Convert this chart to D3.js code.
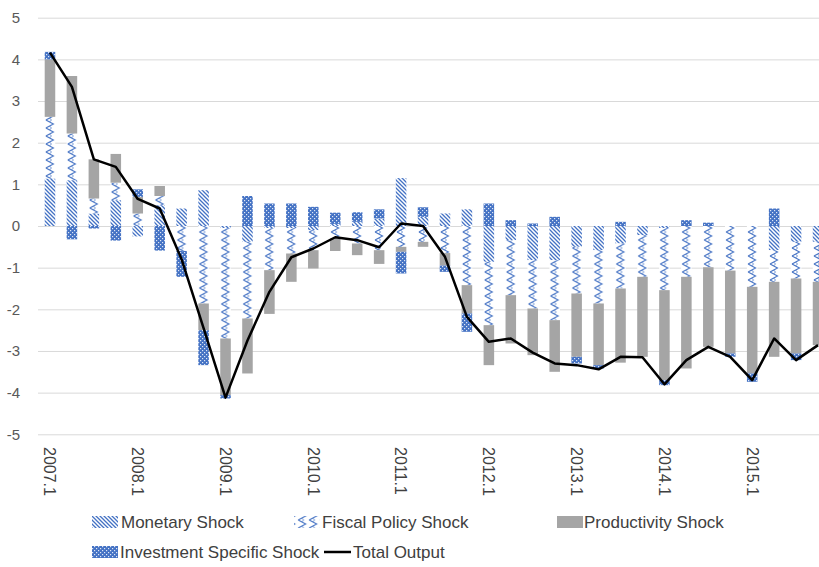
<!DOCTYPE html>
<html>
<head>
<meta charset="utf-8">
<script src="https://cdn.jsdelivr.net/npm/d3@7"></script>
<style>
  html, body { margin: 0; padding: 0; background: #fff; }
  svg { display: block; font-family: 'Liberation Sans', Arial, sans-serif; }
</style>
</head>
<body>
<div id="viz"></div>
<script>
'use strict';

const quarters = [
  '2007.1', '2007.2', '2007.3', '2007.4', '2008.1', '2008.2', '2008.3', '2008.4',
  '2009.1', '2009.2', '2009.3', '2009.4', '2010.1', '2010.2', '2010.3', '2010.4',
  '2011.1', '2011.2', '2011.3', '2011.4', '2012.1', '2012.2', '2012.3', '2012.4',
  '2013.1', '2013.2', '2013.3', '2013.4', '2014.1', '2014.2', '2014.3', '2014.4',
  '2015.1', '2015.2', '2015.3', '2015.4'
];

const monetary = [
  1.14, 1.10, 0.30, 0.62, -0.25, 0.50, 0.42, 0.86,
  -0.05, -0.38, -0.05, -0.05, -0.10, 0.05, 0.10, 0.18,
  1.15, 0.22, 0.30, 0.40, -0.86, -0.34, -0.82, -0.82,
  -0.50, -0.58, -0.42, -0.22, -0.05, 0.00, 0.00, 0.00,
  0.00, -0.58, -0.38, -0.38
];

const fiscal = [
  1.48, 1.12, 0.36, 0.42, 0.30, 0.22, -0.60, -1.86,
  -2.65, -1.84, -1.01, -0.61, -0.48, -0.30, -0.42, -0.58,
  -0.50, -0.38, -0.65, -1.42, -1.52, -1.32, -1.16, -1.44,
  -1.12, -1.28, -1.08, -1.00, -1.49, -1.22, -0.99, -1.07,
  -1.46, -0.76, -0.88, -0.96
];

const productivity = [
  1.38, 1.38, 0.94, 0.69, 0.40, 0.24, 0.00, -0.64,
  -1.36, -1.32, -1.05, -0.68, -0.44, -0.30, -0.28, -0.33,
  -0.12, -0.12, -0.30, -0.68, -0.96, -1.16, -1.12, -1.24,
  -1.52, -1.48, -1.78, -1.92, -2.16, -2.20, -1.91, -1.99,
  -2.08, -1.80, -1.80, -1.52
];

const investment = [
  0.18, -0.32, -0.06, -0.35, 0.18, -0.59, -0.62, -0.84,
  -0.08, 0.72, 0.54, 0.54, 0.46, 0.27, 0.23, 0.22,
  -0.52, 0.23, -0.15, -0.44, 0.54, 0.14, 0.06, 0.22,
  -0.16, -0.08, 0.10, 0.00, -0.12, 0.14, 0.08, -0.08,
  -0.20, 0.42, -0.16, 0.00
];

const totalOutput = [
  4.16, 3.34, 1.60, 1.42, 0.65, 0.42, -0.80, -2.45,
  -4.12, -2.75, -1.58, -0.75, -0.54, -0.27, -0.34, -0.51,
  0.06, 0.00, -0.74, -2.18, -2.78, -2.70, -3.04, -3.30,
  -3.34, -3.44, -3.14, -3.15, -3.80, -3.22, -2.90, -3.14,
  -3.70, -2.70, -3.22, -2.86
];

const yTicks = [-5, -4, -3, -2, -1, 0, 1, 2, 3, 4, 5];

const seriesNames = ['Monetary Shock', 'Fiscal Policy Shock', 'Productivity Shock', 'Investment Specific Shock'];
const lineName = 'Total Output';

const blue = '#4472C4';
const gray = '#A5A5A5';

const W = 819;
const H = 567;

const svg = d3.select('#viz')
  .append('svg')
    .attr('width', W)
    .attr('height', H);

// scales
const x = d3.scaleBand()
  .domain(quarters)
  .range([39, 829])
  .paddingInner(0.52)
  .paddingOuter(0.26);

const y = d3.scaleLinear()
  .domain([-5, 5])
  .range([434.3, 17.7]);

// fill patterns, close to the Excel ones
const defs = svg.append('defs');

const pMon = defs.append('pattern')
  .attr('id', 'pat-mon')
  .attr('patternUnits', 'userSpaceOnUse')
  .attr('width', 4)
  .attr('height', 4);
pMon.append('rect').attr('width', 4).attr('height', 4).attr('fill', '#fff');
pMon.append('path')
  .attr('d', 'M-1,-1L5,5M-1,3L1,5M3,-1L5,1')
  .attr('stroke', blue)
  .attr('stroke-width', 1.3);

// zigzag, one tile per half step so every bar gets the same phase
const zw = x.step() / 2;
const pFis = defs.append('pattern')
  .attr('id', 'pat-fis')
  .attr('patternUnits', 'userSpaceOnUse')
  .attr('width', zw)
  .attr('height', 8);
pFis.append('rect').attr('width', zw).attr('height', 8).attr('fill', '#fff');
pFis.append('path')
  .attr('d', `M2,0L${zw - 1.5},4L2,8`)
  .attr('fill', 'none')
  .attr('stroke', blue)
  .attr('stroke-width', 1.1);
pFis.append('path')
  .attr('d', `M${zw / 2},2L${zw / 2 + 2},0M${zw / 2},6L${zw / 2 + 2},8`)
  .attr('fill', 'none')
  .attr('stroke', blue)
  .attr('stroke-width', 0.8);

const pInv = defs.append('pattern')
  .attr('id', 'pat-inv')
  .attr('patternUnits', 'userSpaceOnUse')
  .attr('width', 4)
  .attr('height', 4);
pInv.append('rect').attr('width', 4).attr('height', 4).attr('fill', blue);
pInv.append('rect').attr('x', 0).attr('y', 0).attr('width', 1.2).attr('height', 1.2).attr('fill', '#dfe7f5');
pInv.append('rect').attr('x', 2).attr('y', 2).attr('width', 1.2).attr('height', 1.2).attr('fill', '#dfe7f5');

const fills = ['url(#pat-mon)', 'url(#pat-fis)', gray, 'url(#pat-inv)'];

// grid + y labels
const yAxis = svg.append('g')
  .attr('transform', 'translate(38,0)')
  .call(d3.axisLeft(y).tickValues(yTicks).tickSize(-800).tickPadding(18));

yAxis.select('.domain').remove();
yAxis.selectAll('line')
  .attr('stroke', '#D9D9D9')
  .attr('stroke-width', 1);
yAxis.selectAll('text')
  .attr('fill', '#595959')
  .style('font-size', '15px')
  .text(d => d < 0 ? '-' + Math.abs(d) : d);

// stacked bars, positives up and negatives down like Excel
const rows = quarters.map((q, i) => ({
  q,
  s0: monetary[i],
  s1: fiscal[i],
  s2: productivity[i],
  s3: investment[i]
}));

const stack = d3.stack()
  .keys(['s0', 's1', 's2', 's3'])
  .offset(d3.stackOffsetDiverging);

const layers = stack(rows);

svg.append('g')
  .selectAll('g')
  .data(layers)
  .join('g')
    .attr('fill', (d, i) => fills[i])
  .selectAll('rect')
  .data(d => d)
  .join('rect')
    .attr('x', d => x(d.data.q))
    .attr('width', x.bandwidth())
    .attr('y', d => y(Math.max(d[0], d[1])))
    .attr('height', d => Math.abs(y(d[0]) - y(d[1])));

// total output line
svg.append('path')
  .datum(totalOutput)
  .attr('fill', 'none')
  .attr('stroke', '#000')
  .attr('stroke-width', 2.5)
  .attr('stroke-linejoin', 'round')
  .attr('d', d3.line()
    .x((d, i) => x(quarters[i]) + x.bandwidth() / 2)
    .y(d => y(d))
  );

// x labels, every first quarter, rotated
const xAxis = svg.append('g')
  .attr('transform', 'translate(0,440)')
  .call(d3.axisBottom(x)
    .tickValues(quarters.filter(q => q.endsWith('.1')))
    .tickSize(0)
    .tickPadding(0));

xAxis.select('.domain').remove();
xAxis.selectAll('text')
  .attr('fill', '#404040')
  .style('font-size', '16px')
  .attr('text-anchor', 'start')
  .attr('dy', '0.35em')
  .attr('transform', 'rotate(90) translate(7,0)')
  .attr('x', 0)
  .attr('y', 0);

// legend
const legend = svg.append('g')
  .style('font-size', '17px')
  .attr('fill', '#404040');

const legendItems = [
  {name: seriesNames[0], fill: fills[0], sx: 92, tx: 121, ty: 522},
  {name: seriesNames[1], fill: fills[1], sx: 294, tx: 322, ty: 522},
  {name: seriesNames[2], fill: fills[2], sx: 557, tx: 584, ty: 522},
  {name: seriesNames[3], fill: fills[3], sx: 92, tx: 120, ty: 552}
];

legendItems.forEach(it => {
  legend.append('rect')
    .attr('x', it.sx)
    .attr('y', it.ty - 6)
    .attr('width', 26)
    .attr('height', 12)
    .attr('fill', it.fill);
  legend.append('text')
    .attr('x', it.tx)
    .attr('y', it.ty)
    .attr('dy', '0.35em')
    .text(it.name);
});

legend.append('line')
  .attr('x1', 324)
  .attr('x2', 351)
  .attr('y1', 552)
  .attr('y2', 552)
  .attr('stroke', '#000')
  .attr('stroke-width', 2.5);
legend.append('text')
  .attr('x', 353)
  .attr('y', 552)
  .attr('dy', '0.35em')
  .text(lineName);
</script>
</body>
</html>
